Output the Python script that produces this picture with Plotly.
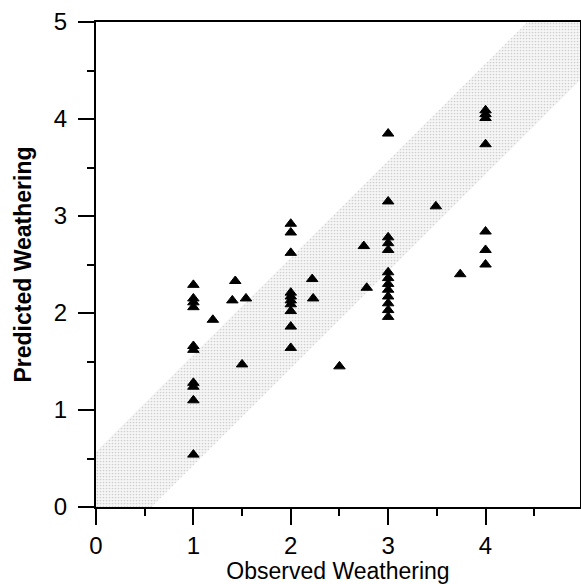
import plotly.graph_objects as go

# Observed (x) and predicted (y) weathering values
obs = [1, 1, 1, 1, 1, 1, 1, 1, 1, 1,
       1.43, 1.40, 1.54, 1.20, 1.50,
       2, 2, 2, 2, 2, 2, 2, 2, 2, 2,
       2.22, 2.23, 2.50, 2.75, 2.78,
       3, 3, 3, 3, 3, 3, 3, 3, 3, 3, 3, 3, 3,
       3.49, 3.74,
       4, 4, 4, 4, 4, 4, 4]
pred = [2.29, 2.15, 2.11, 2.06, 1.66, 1.62, 1.28, 1.24, 1.10, 0.54,
        2.33, 2.13, 2.15, 1.93, 1.47,
        2.92, 2.83, 2.62, 2.21, 2.17, 2.13, 2.09, 2.02, 1.86, 1.64,
        2.35, 2.15, 1.45, 2.69, 2.26,
        3.85, 3.15, 2.78, 2.72, 2.65, 2.42, 2.36, 2.30, 2.24, 2.17, 2.10, 2.03, 1.96,
        3.10, 2.40,
        4.09, 4.05, 4.01, 3.74, 2.84, 2.65, 2.50]

# 1:1 agreement band
band_lo, band_hi = 0.0, 5.0
band_half = 0.57

x_ticks = [0, 1, 2, 3, 4]
y_ticks = [0, 1, 2, 3, 4, 5]

band_x = [band_lo, band_lo + band_half, band_hi, band_hi, band_hi - band_half, band_lo, band_lo]
band_y = [band_lo, band_lo, band_hi - band_half, band_hi, band_hi, band_lo + band_half, band_lo]

font_family = "Liberation Sans, Arial, sans-serif"

fig = go.Figure()
fig.add_trace(go.Scatter(
    x=band_x, y=band_y, mode="lines", fill="toself",
    line=dict(width=0, color="rgba(0,0,0,0)"),
    fillcolor="#f2f2f2",
    fillpattern=dict(shape=".", size=3, solidity=0.25, fgcolor="#a8a8a8", bgcolor="#f6f6f6"),
    hoverinfo="skip", showlegend=False,
))
fig.add_trace(go.Scatter(
    x=obs, y=pred, mode="markers",
    marker=dict(symbol="triangle-up", size=10, color="black", line=dict(width=1, color="black")),
    showlegend=False,
))

axis_common = dict(
    showline=True, linewidth=2, linecolor="black", mirror=True,
    ticks="outside", ticklen=16, tickwidth=2, tickcolor="black",
    showgrid=False, zeroline=False, automargin=False,
    tickfont=dict(family=font_family, size=24, color="black"),
    minor=dict(ticks="outside", ticklen=7, tickwidth=2, tickcolor="black", dtick=0.5, showgrid=False),
)

fig.update_layout(
    width=581, height=584,
    margin=dict(l=96, r=1, t=22, b=77),
    plot_bgcolor="white", paper_bgcolor="white",
    font=dict(family=font_family, color="black"),
    xaxis=dict(
        range=[0, 4.97], tickvals=x_ticks, ticktext=[str(v) for v in x_ticks],
        ticklabelstandoff=0,
        title=dict(text="Observed Weathering", font=dict(family=font_family, size=23), standoff=2),
        **axis_common,
    ),
    yaxis=dict(
        range=[0, 5], tickvals=y_ticks, ticktext=[str(v) for v in y_ticks],
        ticklabelstandoff=6,
        title=dict(text="<b>Predicted Weathering</b>", font=dict(family=font_family, size=23), standoff=16),
        **axis_common,
    ),
)

fig.write_html(
    "out.html",
    config={"displayModeBar": False},
    post_script="document.body.style.margin='0';document.body.style.overflow='hidden';",
)
